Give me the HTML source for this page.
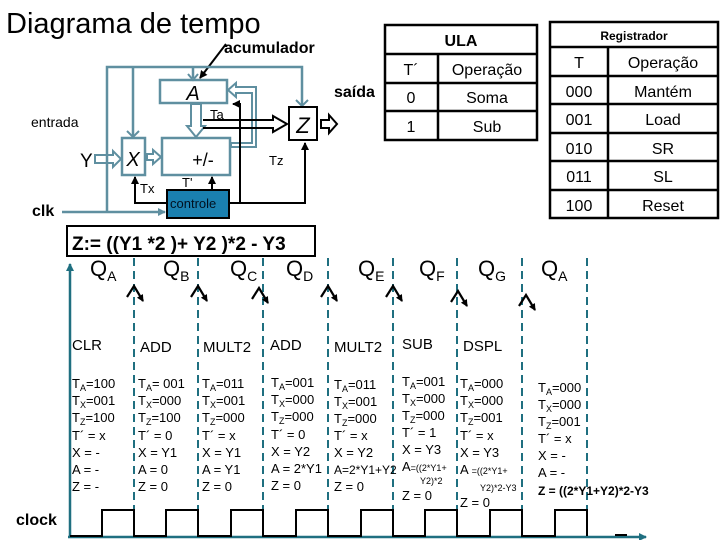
<!DOCTYPE html>
<html><head><meta charset="utf-8"><style>
html,body{margin:0;padding:0;background:#fff;}
svg{display:block;font-family:"Liberation Sans",Arial,sans-serif;}
</style></head><body>
<svg width="720" height="540" viewBox="0 0 720 540">
<defs>
<marker id="ab" markerWidth="8" markerHeight="8" refX="7" refY="4" orient="auto" markerUnits="userSpaceOnUse"><path d="M0,0 L8,4 L0,8 z" fill="#000"/></marker>
<marker id="as" markerWidth="7" markerHeight="7" refX="6" refY="3.5" orient="auto" markerUnits="userSpaceOnUse"><path d="M0,0 L7,3.5 L0,7 z" fill="#000"/></marker>
<marker id="at" markerWidth="8" markerHeight="8" refX="7" refY="4" orient="auto" markerUnits="userSpaceOnUse"><path d="M0,0 L8,4 L0,8 z" fill="#5f8fa0"/></marker>
<marker id="ad" markerWidth="8" markerHeight="8" refX="7" refY="4" orient="auto" markerUnits="userSpaceOnUse"><path d="M0,0 L8,4 L0,8 z" fill="#1f6f80"/></marker>
</defs>
<text x="6" y="33" font-size="29">Diagrama de tempo</text>
<text x="224" y="53" font-size="16" font-weight="bold">acumulador</text>
<line x1="226" y1="44" x2="200" y2="78" stroke="#000" stroke-width="2" marker-end="url(#ab)"/>
<text x="334" y="97" font-size="16" font-weight="bold">saída</text>
<text x="31" y="127" font-size="14">entrada</text>
<text x="80" y="167" font-size="19">Y</text>
<text x="32" y="216" font-size="16" font-weight="bold">clk</text>
<g stroke="#5f8fa0" stroke-width="2.5" fill="none">
<polyline points="107,212 107,67 302,67 302,105" />
<line x1="133" y1="67" x2="133" y2="136"/>
<line x1="193" y1="67" x2="193" y2="78"/>
<rect x="160" y="80" width="67" height="23" fill="#fff"/>
<rect x="162" y="138" width="68" height="37" fill="#fff"/>
<rect x="122" y="138" width="23" height="37" fill="#fff"/>
<line x1="62" y1="212" x2="165" y2="212" marker-end="url(#at)"/>
<path d="M95,155 h18 v-4 l8,8 l-8,8 v-4 h-18 z" stroke-width="2"/>
<path d="M147,154 h6 v-4 l8,7 l-8,7 v-4 h-6 z" stroke-width="2"/>
<path d="M191,104 v22 h-4 l9,11 l9,-11 h-4 v-22 z" stroke-width="2"/>
<path d="M231,147 h25 v-60 h-20 v-4 l-8,7 l8,7 v-4 h16 v50 h-21 z" stroke-width="2"/>
</g>
<path d="M296,100 l6,6 l6,-6" stroke="#5f8fa0" stroke-width="2" fill="none"/>
<path d="M127,131 l6,6 l6,-6" stroke="#5f8fa0" stroke-width="2" fill="none"/>
<path d="M188,74 l5,6 l5,-6" stroke="#5f8fa0" stroke-width="2" fill="none"/>
<rect x="289" y="107" width="28" height="33" fill="#fff" stroke="#000" stroke-width="2"/>
<text x="303" y="133" font-size="22" text-anchor="middle" font-style="italic">Z</text>
<text x="193" y="100" font-size="20" text-anchor="middle" font-style="italic">A</text>
<text x="133" y="166" font-size="20" text-anchor="middle" font-style="italic">X</text>
<text x="203" y="166" font-size="18" text-anchor="middle">+/-</text>
<path d="M203,120 h70 v-4 l14,8 l-14,8 v-4 h-70" fill="none" stroke="#000" stroke-width="2"/>
<path d="M321,120 h8 v-5 l8,9 l-8,9 v-5 h-8 z" fill="none" stroke="#000" stroke-width="2"/>
<rect x="167" y="190" width="62" height="28" fill="#1a80b0" stroke="#000" stroke-width="2"/>
<text x="170" y="208" font-size="13" fill="#001020">controle</text>
<g stroke="#000" stroke-width="2" fill="none">
<polyline points="229,203 240,203 240,104 233,104" marker-end="url(#ab)"/>
<polyline points="240,203 305,203 305,143" marker-end="url(#ab)"/>
<polyline points="167,203 135,203 135,177" marker-end="url(#ab)"/>
<line x1="212" y1="190" x2="212" y2="177" marker-end="url(#ab)"/>
</g>
<text x="210" y="119" font-size="13">Ta</text>
<text x="269" y="165" font-size="13">Tz</text>
<text x="140" y="193" font-size="13">Tx</text>
<text x="182" y="187" font-size="13">T'</text>
<g stroke="#000" stroke-width="2.5" fill="none">
<rect x="385" y="25" width="152" height="115"/>
<line x1="385" y1="54" x2="537" y2="54"/><line x1="385" y1="83" x2="537" y2="83"/><line x1="385" y1="111" x2="537" y2="111"/>
<line x1="438" y1="54" x2="438" y2="140"/>
<rect x="550" y="22" width="168" height="196"/>
<line x1="550" y1="47" x2="718" y2="47"/><line x1="550" y1="76" x2="718" y2="76"/><line x1="550" y1="104" x2="718" y2="104"/><line x1="550" y1="133" x2="718" y2="133"/><line x1="550" y1="161" x2="718" y2="161"/><line x1="550" y1="190" x2="718" y2="190"/>
<line x1="608" y1="47" x2="608" y2="218"/>
</g>
<g font-size="16" text-anchor="middle">
<text x="461" y="46" font-weight="bold">ULA</text>
<text x="411" y="75">T´</text><text x="487" y="75">Operação</text>
<text x="411" y="103">0</text><text x="487" y="103">Soma</text>
<text x="411" y="132">1</text><text x="487" y="132">Sub</text>
<text x="634" y="40" font-size="12" font-weight="bold">Registrador</text>
<text x="579" y="68">T</text><text x="663" y="68">Operação</text>
<text x="579" y="97">000</text><text x="663" y="97">Mantém</text>
<text x="579" y="125">001</text><text x="663" y="125">Load</text>
<text x="579" y="154">010</text><text x="663" y="154">SR</text>
<text x="579" y="182">011</text><text x="663" y="182">SL</text>
<text x="579" y="211">100</text><text x="663" y="211">Reset</text>
</g>
<rect x="67" y="226" width="248" height="30" fill="#fff" stroke="#000" stroke-width="2"/>
<text x="72" y="250" font-size="19" font-weight="bold">Z:= ((Y1 *2 )+ Y2 )*2  - Y3</text>
<line x1="70" y1="537" x2="70" y2="264" stroke="#1f6f80" stroke-width="2.5" marker-end="url(#ad)"/>
<line x1="68" y1="537" x2="646" y2="537" stroke="#1f6f80" stroke-width="2.5" marker-end="url(#ad)"/>
<g stroke="#1f6f80" stroke-width="2" stroke-dasharray="8,5">
<line x1="134" y1="258" x2="134" y2="535"/><line x1="198" y1="258" x2="198" y2="535"/><line x1="263" y1="258" x2="263" y2="535"/><line x1="328" y1="258" x2="328" y2="535"/><line x1="393" y1="258" x2="393" y2="535"/><line x1="457" y1="258" x2="457" y2="535"/><line x1="522" y1="258" x2="522" y2="535"/><line x1="587" y1="258" x2="587" y2="535"/>
</g>
<polyline points="70,536 102,536 102,510 134,510 134,536 166,536 166,510 198,510 198,536 231,536 231,510 263,510 263,536 296,536 296,510 328,510 328,536 361,536 361,510 393,510 393,536 425,536 425,510 457,510 457,536 490,536 490,510 522,510 522,536 555,536 555,510 587,510 587,536" fill="none" stroke="#000" stroke-width="2"/>
<line x1="615" y1="535" x2="627" y2="535" stroke="#000" stroke-width="2"/>
<text x="16" y="525" font-size="16" font-weight="bold">clock</text>
<g font-size="22">
<text x="90" y="276">Q<tspan font-size="14" dy="5">A</tspan></text>
<text x="163" y="276">Q<tspan font-size="14" dy="5">B</tspan></text>
<text x="230" y="276">Q<tspan font-size="14" dy="5">C</tspan></text>
<text x="286" y="276">Q<tspan font-size="14" dy="5">D</tspan></text>
<text x="358" y="276">Q<tspan font-size="14" dy="5">E</tspan></text>
<text x="419" y="276">Q<tspan font-size="14" dy="5">F</tspan></text>
<text x="478" y="276">Q<tspan font-size="14" dy="5">G</tspan></text>
<text x="541" y="276">Q<tspan font-size="14" dy="5">A</tspan></text>
</g>
<g stroke="#000" stroke-width="2.2" fill="none">
<path d="M127,297 l7,-11 l9,15" marker-end="url(#as)"/><path d="M191,297 l7,-11 l9,15" marker-end="url(#as)"/><path d="M252,299 l7,-11 l9,15" marker-end="url(#as)"/><path d="M321,297 l7,-11 l9,15" marker-end="url(#as)"/><path d="M386,297 l7,-11 l9,15" marker-end="url(#as)"/><path d="M451,302 l7,-11 l9,15" marker-end="url(#as)"/><path d="M519,306 l7,-11 l9,15" marker-end="url(#as)"/>
</g>
<g font-size="15">
<text x="72" y="350">CLR</text><text x="140" y="352">ADD</text><text x="203" y="352">MULT2</text><text x="270" y="350">ADD</text><text x="334" y="352">MULT2</text><text x="402" y="349">SUB</text><text x="463" y="351">DSPL</text>
</g>
<g font-size="13">
<g transform="translate(72,0)"><text y="388">T<tspan font-size="9" dy="3">A</tspan><tspan dy="-3">=100</tspan></text><text y="405">T<tspan font-size="9" dy="3">X</tspan><tspan dy="-3">=001</tspan></text><text y="422">T<tspan font-size="9" dy="3">Z</tspan><tspan dy="-3">=100</tspan></text><text y="440">T´ = x</text><text y="457">X = -</text><text y="474">A = -</text><text y="491">Z = -</text></g>
<g transform="translate(138,0)"><text y="388">T<tspan font-size="9" dy="3">A</tspan><tspan dy="-3">= 001</tspan></text><text y="405">T<tspan font-size="9" dy="3">X</tspan><tspan dy="-3">=000</tspan></text><text y="422">T<tspan font-size="9" dy="3">Z</tspan><tspan dy="-3">=100</tspan></text><text y="440">T´ = 0</text><text y="457">X = Y1</text><text y="474">A = 0</text><text y="491">Z = 0</text></g>
<g transform="translate(202,0)"><text y="388">T<tspan font-size="9" dy="3">A</tspan><tspan dy="-3">=011</tspan></text><text y="405">T<tspan font-size="9" dy="3">X</tspan><tspan dy="-3">=001</tspan></text><text y="422">T<tspan font-size="9" dy="3">Z</tspan><tspan dy="-3">=000</tspan></text><text y="440">T´ = x</text><text y="457">X = Y1</text><text y="474">A = Y1</text><text y="491">Z = 0</text></g>
<g transform="translate(271,0)"><text y="387">T<tspan font-size="9" dy="3">A</tspan><tspan dy="-3">=001</tspan></text><text y="404">T<tspan font-size="9" dy="3">X</tspan><tspan dy="-3">=000</tspan></text><text y="421">T<tspan font-size="9" dy="3">Z</tspan><tspan dy="-3">=000</tspan></text><text y="439">T´ = 0</text><text y="456">X = Y2</text><text y="473">A = 2*Y1</text><text y="490">Z = 0</text></g>
<g transform="translate(334,0)"><text y="389">T<tspan font-size="9" dy="3">A</tspan><tspan dy="-3">=011</tspan></text><text y="406">T<tspan font-size="9" dy="3">X</tspan><tspan dy="-3">=001</tspan></text><text y="423">T<tspan font-size="9" dy="3">Z</tspan><tspan dy="-3">=000</tspan></text><text y="440">T´ = x</text><text y="457">X = Y2</text><text y="474" font-size="12">A=2*Y1+Y2</text><text y="491">Z = 0</text></g>
<g transform="translate(402,0)"><text y="386">T<tspan font-size="9" dy="3">A</tspan><tspan dy="-3">=001</tspan></text><text y="403">T<tspan font-size="9" dy="3">X</tspan><tspan dy="-3">=000</tspan></text><text y="420">T<tspan font-size="9" dy="3">Z</tspan><tspan dy="-3">=000</tspan></text><text y="437">T´ = 1</text><text y="454">X = Y3</text><text y="471">A<tspan font-size="9">=((2*Y1+</tspan></text><text x="18" y="484" font-size="9">Y2)*2</text><text y="500">Z = 0</text></g>
<g transform="translate(460,0)"><text y="388">T<tspan font-size="9" dy="3">A</tspan><tspan dy="-3">=000</tspan></text><text y="405">T<tspan font-size="9" dy="3">X</tspan><tspan dy="-3">=000</tspan></text><text y="422">T<tspan font-size="9" dy="3">Z</tspan><tspan dy="-3">=001</tspan></text><text y="440">T´ = x</text><text y="457">X = Y3</text><text y="474">A <tspan font-size="9">=((2*Y1+</tspan></text><text x="20" y="491" font-size="9">Y2)*2-Y3</text><text y="507">Z = 0</text></g>
<g transform="translate(538,0)"><text y="392">T<tspan font-size="9" dy="3">A</tspan><tspan dy="-3">=000</tspan></text><text y="409">T<tspan font-size="9" dy="3">X</tspan><tspan dy="-3">=000</tspan></text><text y="426">T<tspan font-size="9" dy="3">Z</tspan><tspan dy="-3">=001</tspan></text><text y="443">T´ = x</text><text y="460">X = -</text><text y="477">A = -</text><text y="495" font-weight="bold" font-size="12">Z = ((2*Y1+Y2)*2-Y3</text></g>
</g>
</svg>
</body></html>
